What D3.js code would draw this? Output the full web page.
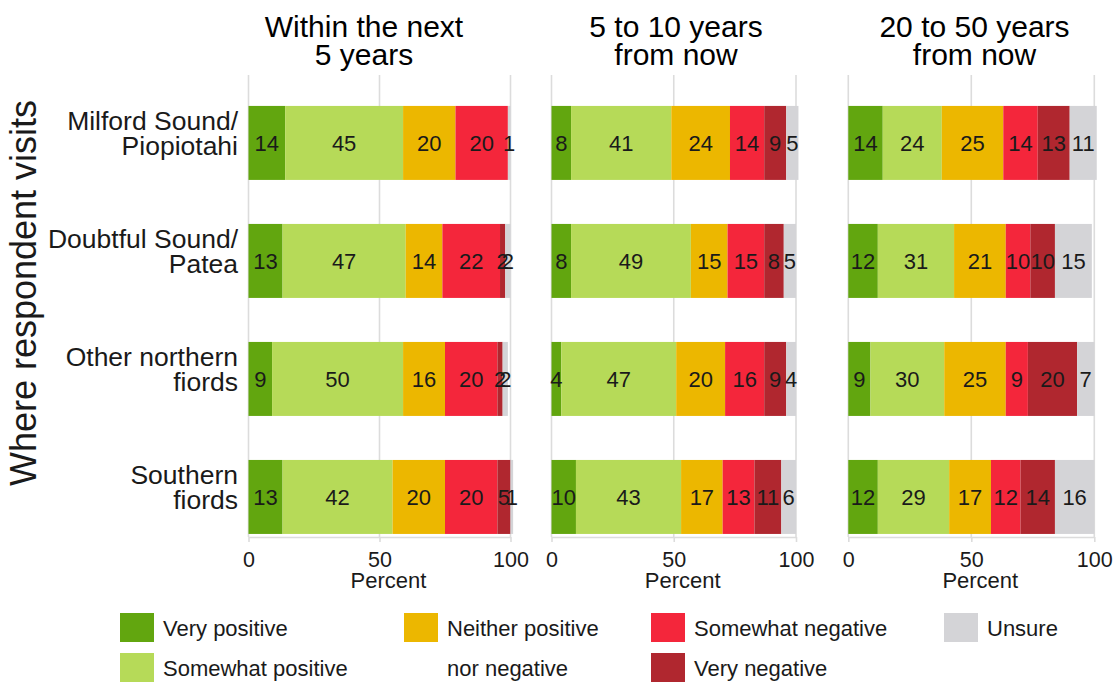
<!DOCTYPE html>
<html><head><meta charset="utf-8">
<script src="https://cdn.jsdelivr.net/npm/d3@7"></script>
<style>body{margin:0;background:#fff} svg{display:block;font-family:"Liberation Sans",Arial,sans-serif}</style>
</head><body><svg id="chart" width="1117" height="684"></svg>
<script>
// ---------- data ----------
const categories = ["Milford Sound/\nPiopiotahi", "Doubtful Sound/\nPatea", "Other northern\nfiords", "Southern\nfiords"];
const responses = ["Very positive", "Somewhat positive", "Neither positive\nnor negative", "Somewhat negative", "Very negative", "Unsure"];
const timeframes = ["Within the next\n5 years", "5 to 10 years\nfrom now", "20 to 50 years\nfrom now"];
// rows follow categories, columns follow responses (percent)
const valuesNext5   = [[14, 45, 20, 20, 0, 1], [13, 47, 14, 22, 2, 2], [9, 50, 16, 20, 2, 2], [13, 42, 20, 20, 5, 1]];
const values5to10   = [[8, 41, 24, 14, 9, 5], [8, 49, 15, 15, 8, 5], [4, 47, 20, 16, 9, 4], [10, 43, 17, 13, 11, 6]];
const values20to50  = [[14, 24, 25, 14, 13, 11], [12, 31, 21, 10, 10, 15], [9, 30, 25, 9, 20, 7], [12, 29, 17, 12, 14, 16]];
const panelValues = [valuesNext5, values5to10, values20to50];
const xTicks = [0, 50, 100];
const xAxisTitle = "Percent";
const yAxisTitle = "Where respondent visits";

// ---------- layout & style ----------
const W = 1117, H = 684;
const colors = ["#62a60f", "#b6da58", "#ecb700", "#f4263b", "#b0272f", "#d4d4d7"];
const panelRanges = [[248.5, 510.5], [551.5, 796], [848.3, 1094.3]];
const titleCenters = [364, 676, 974.5];
const plotTop = 75, plotBottom = 537;
const gridColor = "#dcdcdc";
const textColor = "#1a1a1a";
const legendColX = [120, 404, 651, 944];
const legendRowY = [613, 653];
const legendCols = [[0, 1], [2], [3, 4], [5]];

const svg = d3.select("#chart");
svg.append("rect").attr("width", W).attr("height", H).attr("fill", "#fff");

const y = d3.scaleBand().domain(categories).range([plotTop, plotBottom])
  .paddingInner(0.373).paddingOuter(0.144).align(0.91);

// y-axis title
svg.append("text")
  .attr("transform", `translate(36,293) rotate(-90)`)
  .attr("text-anchor", "middle").attr("font-size", 36).attr("fill", textColor)
  .text(yAxisTitle);

// category labels
const catG = svg.append("g");
categories.forEach(c => {
  const lines = c.split("\n");
  const cy = y(c) + y.bandwidth() / 2 - 9;
  const lh = 25;
  const t = catG.append("text").attr("text-anchor", "end").attr("font-size", 26.5).attr("fill", textColor);
  lines.forEach((ln, i) => {
    t.append("tspan").attr("x", 238)
      .attr("y", cy + (i - (lines.length - 1) / 2) * lh + 9)
      .text(ln);
  });
});

panelValues.forEach((vals, p) => {
  const [x0, x1] = panelRanges[p];
  const x = d3.scaleLinear().domain([0, 100]).range([x0, x1]);
  const g = svg.append("g");

  // title
  const tl = timeframes[p].split("\n");
  const tt = g.append("text").attr("text-anchor", "middle").attr("font-size", 30).attr("fill", "#000");
  tl.forEach((ln, i) => tt.append("tspan").attr("x", titleCenters[p]).attr("y", 37 + i * 28.3).text(ln));

  // gridlines
  g.selectAll(".grid").data(xTicks).join("line")
    .attr("x1", d => x(d)).attr("x2", d => x(d))
    .attr("y1", plotTop).attr("y2", plotBottom)
    .attr("stroke", gridColor).attr("stroke-width", 1.6);

  // stacked bars
  const rows = categories.map((c, i) => {
    const o = { cat: c };
    responses.forEach((r, j) => o[r] = vals[i][j]);
    return o;
  });
  const series = d3.stack().keys(responses)(rows);
  series.forEach((s, j) => {
    const sg = g.append("g");
    sg.selectAll("rect").data(s).join("rect")
      .attr("x", d => x(d[0])).attr("width", d => x(d[1]) - x(d[0]))
      .attr("y", d => y(d.data.cat)).attr("height", y.bandwidth())
      .attr("fill", colors[j]);
  });
  series.forEach((s, j) => {
    g.append("g").selectAll("text").data(s.filter(d => d[1] - d[0] > 0)).join("text")
      .attr("x", d => x((d[0] + d[1]) / 2))
      .attr("y", d => y(d.data.cat) + y.bandwidth() / 2)
      .attr("dy", "0.36em").attr("text-anchor", "middle")
      .attr("font-size", 22).attr("fill", textColor)
      .text(d => d3.format("d")(d[1] - d[0]));
  });

  // x axis
  const ax = g.append("g").attr("transform", `translate(0,${plotBottom})`)
    .call(d3.axisBottom(x).tickValues(xTicks).tickSize(5).tickSizeOuter(0).tickPadding(10).tickFormat(d3.format("d")));
  ax.select(".domain").attr("stroke", gridColor).attr("stroke-width", 1.6);
  ax.selectAll(".tick line").attr("stroke", gridColor).attr("stroke-width", 1.6);
  ax.selectAll(".tick text").attr("font-size", 21.5).attr("fill", textColor)
    .attr("font-family", '"Liberation Sans",Arial,sans-serif');

  g.append("text").attr("x", (x0 + x1) / 2 + 9).attr("y", 588)
    .attr("text-anchor", "middle").attr("font-size", 22).attr("fill", textColor)
    .text(xAxisTitle);
});

// legend
const lg = svg.append("g");
legendCols.forEach((col, ci) => {
  let row = 0;
  col.forEach(idx => {
    const ky = legendRowY[row];
    lg.append("rect").attr("x", legendColX[ci]).attr("y", ky).attr("width", 34).attr("height", 29)
      .attr("fill", colors[idx]);
    const lines = responses[idx].split("\n");
    lines.forEach((ln, li) => {
      lg.append("text").attr("x", legendColX[ci] + 43).attr("y", legendRowY[row + li] + 14.5 + 8)
        .attr("font-size", 22).attr("fill", textColor).text(ln);
    });
    row += lines.length;
  });
});
</script></body></html>
